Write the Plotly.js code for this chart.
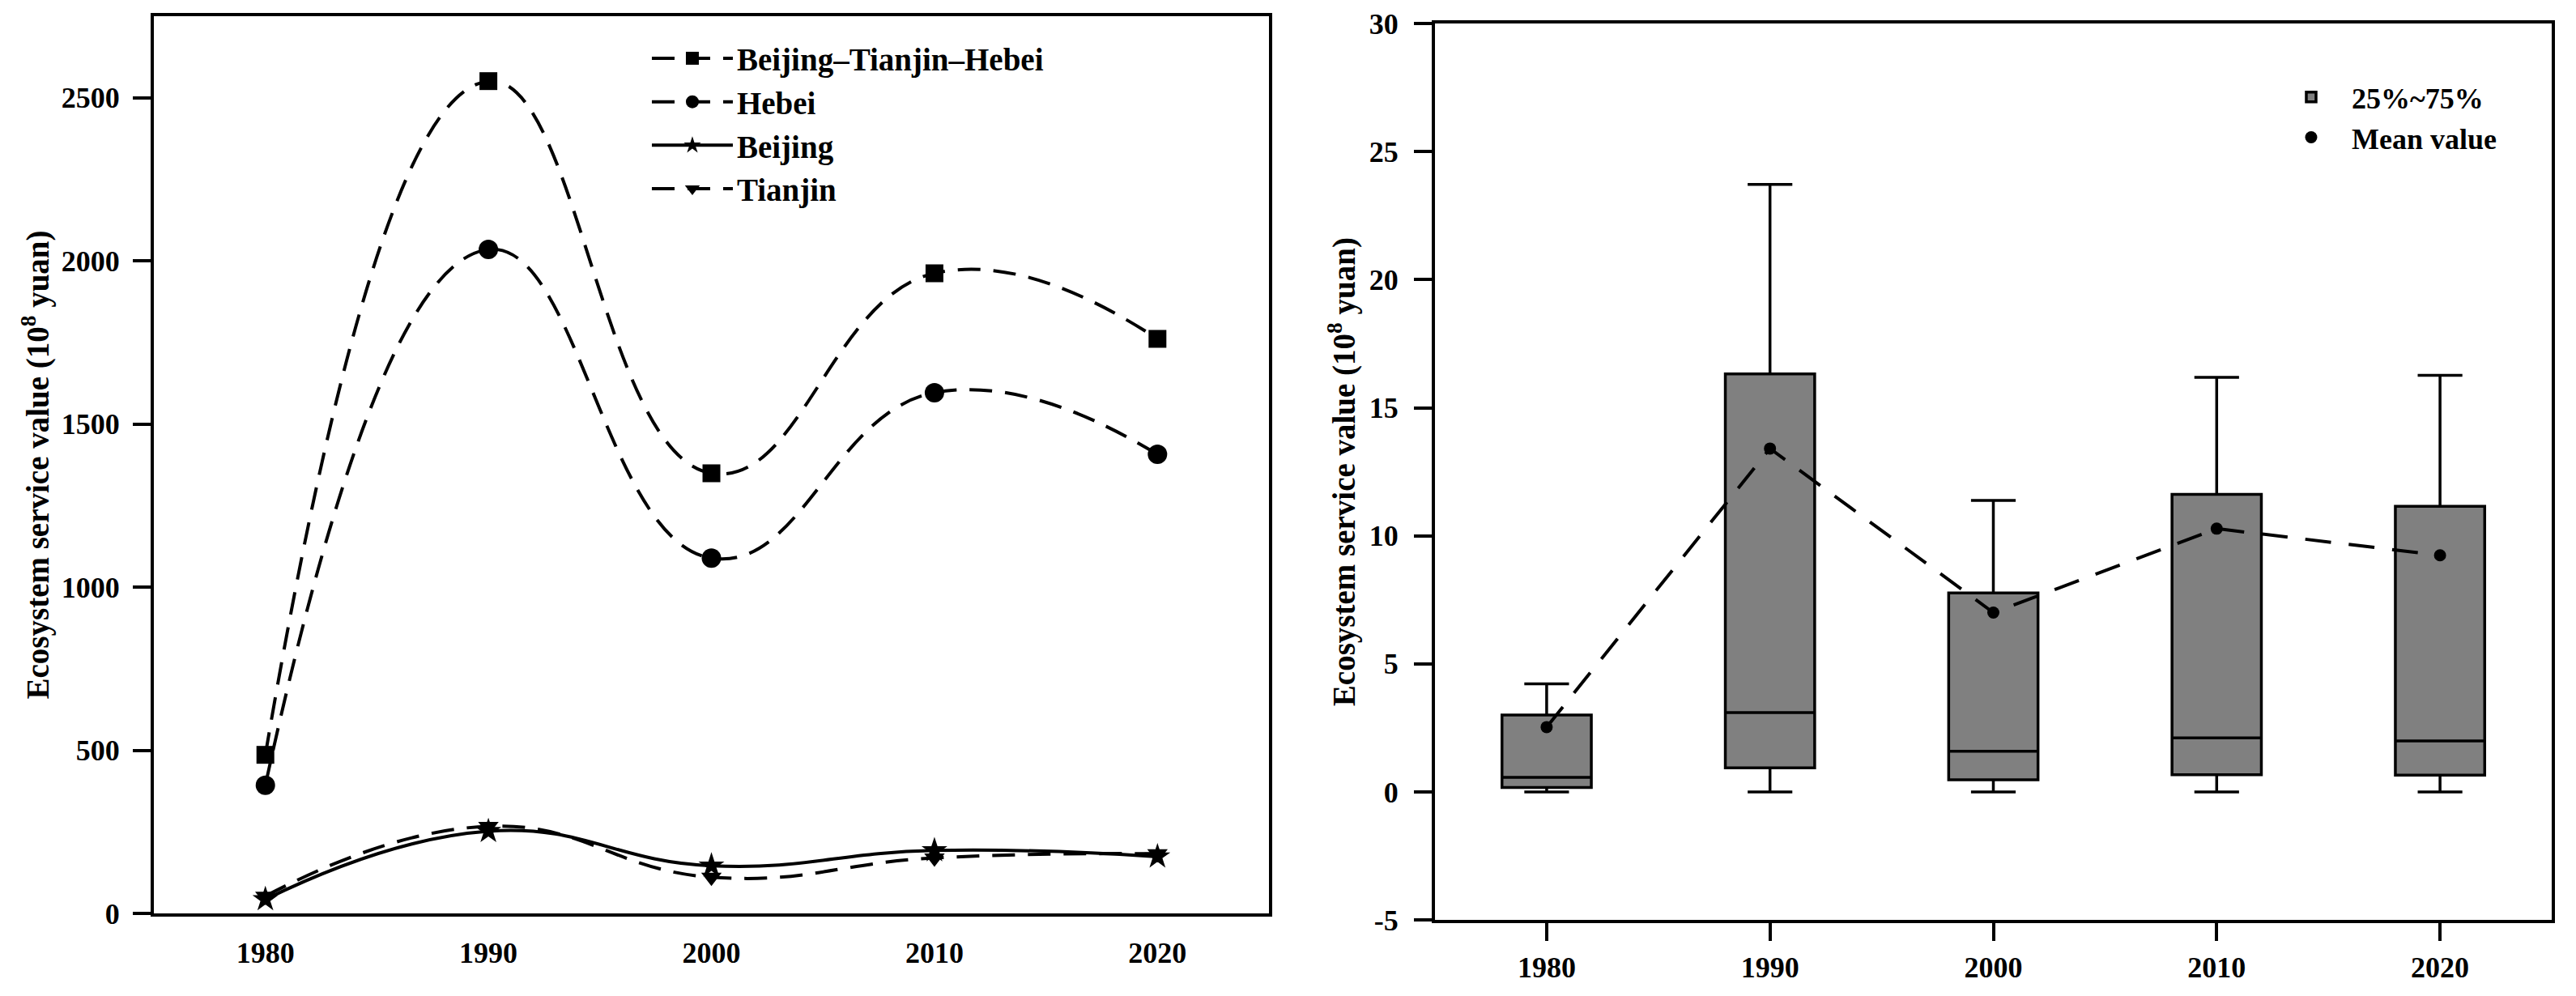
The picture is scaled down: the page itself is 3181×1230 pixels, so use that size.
<!DOCTYPE html>
<html>
<head>
<meta charset="utf-8">
<script src="https://cdn.plot.ly/plotly-3.0.1.min.js"></script>
<style>html,body{margin:0;padding:0;background:#fff;}#chart{width:3181px;height:1230px;}</style>
</head>
<body>
<div id="chart"></div>
<script>
// ---- data ----
const years = [1980, 1990, 2000, 2010, 2020];
const yearLabels = ['1980', '1990', '2000', '2010', '2020'];

// Left panel: ecosystem service value (10^8 yuan)
const bthValues     = [486, 2551, 1349, 1962, 1761];
const hebeiValues   = [393, 2035, 1089, 1596, 1407];
const beijingValues = [43, 252, 146, 193, 174];
const tianjinValues = [53, 267, 111, 170, 183];
const seriesNames = ['Beijing\u2013Tianjin\u2013Hebei', 'Hebei', 'Beijing', 'Tianjin'];

// Right panel: box statistics per year
const boxLower  = [0, 0, 0, 0, 0];
const boxQ1     = [0.17, 0.94, 0.47, 0.67, 0.65];
const boxMedian = [0.57, 3.10, 1.59, 2.11, 1.99];
const boxQ3     = [3.00, 16.32, 7.77, 11.62, 11.15];
const boxUpper  = [4.22, 23.72, 11.38, 16.19, 16.27];
const meanValues = [2.53, 13.41, 7.00, 10.28, 9.24];
const boxLegendName = '25%~75%';
const meanLegendName = 'Mean value';

const leftYTicks = [0, 500, 1000, 1500, 2000, 2500];
const leftYTickText = ['0', '500', '1000', '1500', '2000', '2500'];
const rightYTicks = [-5, 0, 5, 10, 15, 20, 25, 30];
const rightYTickText = ['-5', '0', '5', '10', '15', '20', '25', '30'];
const yTitle = 'Ecosystem service value (10<sup>8</sup> yuan)';

// ---- styling ----
const FONT = 'Liberation Serif, Times New Roman, serif';
const dashPat = '28px,16px';

const traces = [
  {x: years, y: bthValues, name: seriesNames[0], type: 'scatter', mode: 'lines+markers',
   line: {shape: 'spline', smoothing: 1.3, color: '#000', width: 4, dash: dashPat},
   marker: {symbol: 'square', size: 22, color: '#000'}, xaxis: 'x', yaxis: 'y', legend: 'legend'},
  {x: years, y: hebeiValues, name: seriesNames[1], type: 'scatter', mode: 'lines+markers',
   line: {shape: 'spline', smoothing: 1.3, color: '#000', width: 4, dash: dashPat},
   marker: {symbol: 'circle', size: 24, color: '#000'}, xaxis: 'x', yaxis: 'y', legend: 'legend'},
  {x: years, y: beijingValues, name: seriesNames[2], type: 'scatter', mode: 'lines+markers',
   line: {shape: 'spline', smoothing: 1.3, color: '#000', width: 4},
   marker: {symbol: 'star', size: 24, color: '#000'}, xaxis: 'x', yaxis: 'y', legend: 'legend'},
  {x: years, y: tianjinValues, name: seriesNames[3], type: 'scatter', mode: 'lines+markers',
   line: {shape: 'spline', smoothing: 1.3, color: '#000', width: 4, dash: dashPat},
   marker: {symbol: 'triangle-down', size: 22, color: '#000'}, xaxis: 'x', yaxis: 'y', legend: 'legend'},
  {type: 'box', name: boxLegendName, x: years, q1: boxQ1, median: boxMedian, q3: boxQ3,
   lowerfence: boxLower, upperfence: boxUpper, width: 4, whiskerwidth: 0.5,
   fillcolor: '#808080', line: {color: '#000', width: 3.5}, boxpoints: false,
   xaxis: 'x2', yaxis: 'y2', legend: 'legend2', hoverinfo: 'skip'},
  {x: years, y: meanValues, type: 'scatter', mode: 'lines', showlegend: false,
   line: {color: '#000', width: 4, dash: '32px,22px'}, xaxis: 'x2', yaxis: 'y2'},
  {x: years, y: meanValues, name: meanLegendName, type: 'scatter', mode: 'markers',
   marker: {symbol: 'circle', size: 15, color: '#000'}, xaxis: 'x2', yaxis: 'y2', legend: 'legend2'}
];

const axisCommon = {
  showgrid: false, zeroline: false, showline: true, linecolor: '#000', linewidth: 4,
  mirror: true, tickcolor: '#000', tickwidth: 4,
  tickfont: {family: FONT, size: 36, color: '#000', weight: 'bold'}
};
const titleFont = {family: FONT, size: 39, color: '#000', weight: 'bold'};

const layout = {
  width: 3181, height: 1230,
  margin: {l: 190, r: 30, t: 20, b: 94, autoexpand: false},
  paper_bgcolor: '#fff', plot_bgcolor: '#fff',
  font: {family: FONT, size: 36, color: '#000', weight: 'bold'},
  showlegend: true,
  xaxis: Object.assign({}, axisCommon, {
    domain: [0, 0.46505], range: [1975, 2025], tickvals: years, ticktext: yearLabels,
    ticks: '', ticklabelstandoff: 14, anchor: 'y'
  }),
  yaxis: Object.assign({}, axisCommon, {
    domain: [0.00717, 1], range: [0, 2750], tickvals: leftYTicks, ticktext: leftYTickText,
    ticks: 'outside', ticklen: 22, ticklabelstandoff: 9, anchor: 'x',
    title: {text: yTitle, font: titleFont, standoff: 4}
  }),
  xaxis2: Object.assign({}, axisCommon, {
    domain: [0.53428, 1], range: [1975, 2025], tickvals: years, ticktext: yearLabels,
    ticks: 'outside', ticklen: 22, ticklabelstandoff: 2, anchor: 'y2'
  }),
  yaxis2: Object.assign({}, axisCommon, {
    domain: [0, 0.99167], range: [-5, 30], tickvals: rightYTicks, ticktext: rightYTickText,
    ticks: 'outside', ticklen: 22, ticklabelstandoff: 12, anchor: 'x2',
    title: {text: yTitle, font: titleFont, standoff: 6}
  }),
  legend: {
    x: 0.206, y: 0.982, xanchor: 'left', yanchor: 'top', bgcolor: 'rgba(0,0,0,0)',
    font: {family: FONT, size: 39, color: '#000', weight: 'bold'}, itemwidth: 100, traceorder: 'normal'
  },
  legend2: {
    x: 0.8828, y: 0.9374, xanchor: 'left', yanchor: 'top', bgcolor: 'rgba(0,0,0,0)',
    font: {family: FONT, size: 36, color: '#000', weight: 'bold'}, itemwidth: 90, traceorder: 'normal'
  }
};

Plotly.newPlot('chart', traces, layout, {staticPlot: true, displayModeBar: false});
</script>
</body>
</html>
